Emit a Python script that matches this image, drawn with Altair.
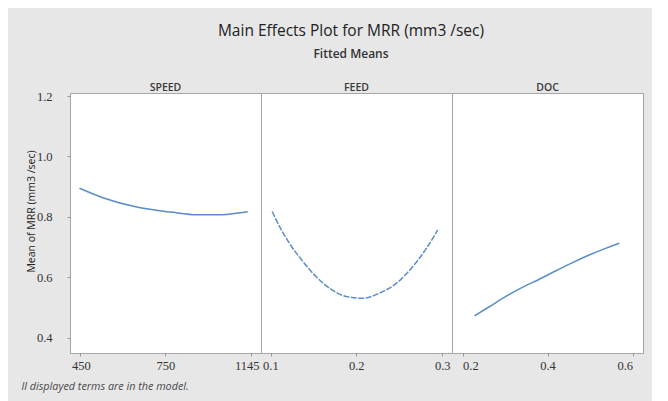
import altair as alt
import pandas as pd

# ---- data ----
factors = ["SPEED", "FEED", "DOC"]

speed_x = [450, 537, 654, 776, 899, 976, 1053, 1130]
speed_y = [0.895, 0.862, 0.832, 0.816, 0.807, 0.807, 0.810, 0.817]

feed_x = [0.102, 0.107, 0.122, 0.138, 0.153, 0.169, 0.188, 0.208, 0.227, 0.247, 0.266, 0.282, 0.295]
feed_y = [0.818, 0.788, 0.713, 0.652, 0.603, 0.564, 0.537, 0.531, 0.548, 0.581, 0.636, 0.697, 0.757]

doc_x = [0.228, 0.263, 0.302, 0.342, 0.381, 0.420, 0.459, 0.498, 0.538, 0.569]
doc_y = [0.473, 0.503, 0.537, 0.568, 0.594, 0.622, 0.649, 0.674, 0.697, 0.713]

speed_ticks = [450, 750, 1145]
feed_ticks = [0.1, 0.2, 0.3]
doc_ticks = [0.2, 0.4, 0.6]
y_ticks = [0.4, 0.6, 0.8, 1.0, 1.2]

LINE = "#5b8dc9"
W, H, SH = 191, 260, 12
LABEL_FONT = "Liberation Serif"
SANS = "Open Sans"

# name: (x, y, ticks, format, scale domain, scale range, label flush offset)
series = {
    "SPEED": (speed_x, speed_y, speed_ticks, "d", [450, 750, 1145], [9.5, 95.25, 181], 8),
    "FEED": (feed_x, feed_y, feed_ticks, ".1f", [0.1, 0.3], [9.5, 181], 8),
    "DOC": (doc_x, doc_y, doc_ticks, ".1f", [0.2, 0.6], [10.5, 180.5], 0),
}

yscale = alt.Scale(domain=[0.35, 1.21], nice=False, zero=False)

strips = []
plots = []
for i, name in enumerate(factors):
    xs, ys, ticks, fmt, dom, rng, flush_off = series[name]
    df = pd.DataFrame({"x": xs, "y": ys})
    strip = (
        alt.Chart(pd.DataFrame({"name": [name]}))
        .mark_text(font=SANS, fontSize=10.5, fontWeight=600, color="#3a3a3a",
                   baseline="middle", dy=1)
        .encode(text="name:N")
        .properties(width=W, height=SH)
    )
    strips.append(strip)
    common = dict(
        values=ticks, format=fmt, grid=False, domain=False, tickSize=3, tickColor="#9a9a9a",
        labelFont=LABEL_FONT, labelFontSize=12.5, labelColor="#333333", labelPadding=3,
        labelFlush=True, labelFlushOffset=flush_off,
    )
    if i == 0:
        xaxis = alt.Axis(
            title="ll displayed terms are in the model.", titleX=-49, titleY=33,
            titleAlign="left", titleBaseline="middle", titleFont=SANS, titleFontSize=10.8,
            titleFontStyle="italic", titleFontWeight="normal", titleColor="#4a4a4a",
            **common,
        )
        yaxis = alt.Axis(
            values=y_ticks, format=".1f", grid=False, domain=False, tickSize=3, tickColor="#9a9a9a",
            labelFont=LABEL_FONT, labelFontSize=12.5, labelColor="#333333", labelPadding=15,
            title="Mean of MRR (mm3 /sec)", titleFont=SANS, titleFontSize=10.5,
            titleFontWeight="normal", titleColor="#222222",
            titleX=-34, titleY=118, titleAlign="center", titleBaseline="bottom",
        )
    else:
        xaxis = alt.Axis(title=None, **common)
        yaxis = None
    mark_kwargs = dict(color=LINE, strokeWidth=1.5, interpolate="monotone")
    if name == "FEED":
        mark_kwargs["strokeDash"] = [6, 1.5]
    plot = (
        alt.Chart(df)
        .mark_line(**mark_kwargs)
        .encode(
            x=alt.X("x:Q", scale=alt.Scale(domain=dom, range=rng, nice=False, zero=False), axis=xaxis),
            y=alt.Y("y:Q", scale=yscale, axis=yaxis),
        )
        .properties(width=W, height=H)
    )
    plots.append(plot)

chart = (
    alt.concat(*strips, *plots, columns=3, spacing=0, bounds="flush")
    .properties(
        title=alt.TitleParams(
            "Main Effects Plot for MRR (mm3 /sec)",
            subtitle="Fitted Means",
            anchor="middle",
            dx=19,
            font=SANS,
            fontSize=15.5,
            fontWeight="normal",
            color="#222222",
            subtitleFont=SANS,
            subtitleFontSize=12,
            subtitleFontWeight=600,
            subtitleColor="#333333",
            subtitlePadding=10,
            offset=21,
        ),
        padding={"left": 12, "top": 15, "right": 8, "bottom": 10},
        background="#e7e7e7",
    )
    .configure_view(fill="white", stroke="#a6a6a6", strokeWidth=1)
)

chart.save("out.html", embed_options={"renderer": "svg", "actions": False})
